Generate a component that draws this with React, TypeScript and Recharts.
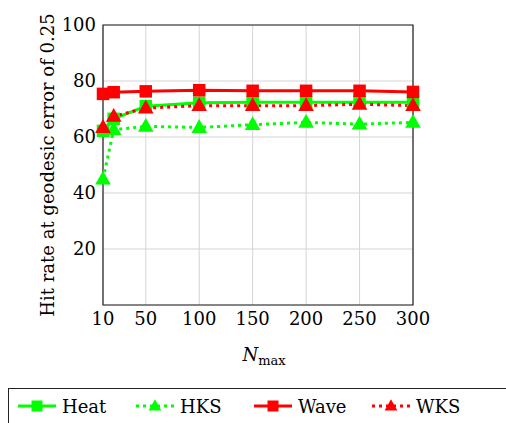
import React from 'react';
import { LineChart, Line, XAxis, YAxis, CartesianGrid, ReferenceArea } from 'recharts';

const nMax = [10, 20, 50, 100, 150, 200, 250, 300];
const heat = [62.2, 66.5, 71, 72.2, 72.4, 72.4, 72.4, 72.4];
const hks = [45, 62.6, 63.8, 63.4, 64.4, 65.2, 64.6, 65.2];
const wave = [75.4, 76, 76.3, 76.7, 76.5, 76.5, 76.5, 76.1];
const wks = [63.4, 67.4, 70.3, 71.2, 71.2, 71.2, 71.7, 71.2];

const xTicks = [10, 50, 100, 150, 200, 250, 300];
const yTicks = [20, 40, 60, 80, 100];

const FONT = '"DejaVu Serif", serif';
const GREEN = '#00ff00';
const RED = '#ff0000';

const data = nMax.map((n, i) => ({ n, heat: heat[i], hks: hks[i], wave: wave[i], wks: wks[i] }));

type Marker = 'square' | 'triangle';

const series: { key: string; name: string; color: string; dashed: boolean; marker: Marker }[] = [
  { key: 'heat', name: 'Heat', color: GREEN, dashed: false, marker: 'square' },
  { key: 'hks', name: 'HKS', color: GREEN, dashed: true, marker: 'triangle' },
  { key: 'wave', name: 'Wave', color: RED, dashed: false, marker: 'square' },
  { key: 'wks', name: 'WKS', color: RED, dashed: true, marker: 'triangle' },
];

const markerShape = (marker: Marker, cx: number, cy: number, color: string, s: number) =>
  marker === 'square' ? (
    <rect x={cx - s / 2} y={cy - s / 2} width={s} height={s} fill={color} />
  ) : (
    <polygon
      points={`${cx},${cy - s * 0.62} ${cx - s * 0.58},${cy + s * 0.4} ${cx + s * 0.58},${cy + s * 0.4}`}
      fill={color}
    />
  );

const makeDot = (marker: Marker, color: string) => (props: any) => {
  const { cx, cy, index } = props;
  if (cx == null || cy == null) return <g key={index} />;
  return <g key={index}>{markerShape(marker, cx, cy, color, marker === 'square' ? 12.5 : 13.5)}</g>;
};

const YLabel = () => (
  <text
    x={47}
    y={165}
    transform="rotate(-90, 47, 165)"
    textAnchor="middle"
    dominantBaseline="central"
    fontFamily={FONT}
    fontSize={18}
    fill="#000"
  >
    Hit rate at geodesic error of 0.25
  </text>
);

const XLabel = () => (
  <text x={264} y={361} textAnchor="middle" fontFamily={FONT} fontSize={18} fill="#000">
    <tspan fontStyle="italic">N</tspan>
    <tspan fontSize={13} dy={4}>max</tspan>
  </text>
);

export default function App() {
  return (
    <div style={{ position: 'absolute', left: 0, top: 0, width: 506, height: 423, overflow: 'hidden', background: '#fff' }}>
      <LineChart width={506} height={380} data={data} margin={{ top: 25, right: 93, left: 43, bottom: 45 }}>
        <CartesianGrid stroke="#d4d4d4" strokeWidth={1} />
        <XAxis
          dataKey="n"
          type="number"
          domain={[10, 300]}
          ticks={xTicks}
          tickLine={false}
          axisLine={false}
          tickSize={0}
          tickMargin={7}
          height={30}
          tick={{ fontFamily: FONT, fontSize: 18, fill: '#000' }}
          label={<XLabel />}
        />
        <YAxis
          type="number"
          domain={[0, 100]}
          ticks={yTicks}
          tickLine={false}
          axisLine={false}
          tickSize={0}
          tickMargin={7}
          width={60}
          tick={{ fontFamily: FONT, fontSize: 18, fill: '#000' }}
          label={<YLabel />}
        />
        <ReferenceArea x1={10} x2={300} y1={0} y2={100} fill="none" stroke="#222" strokeWidth={1.2} />
        {series.map((s) => (
          <Line
            key={s.key}
            dataKey={s.key}
            name={s.name}
            stroke={s.color}
            strokeWidth={3}
            strokeDasharray={s.dashed ? '3 4' : undefined}
            dot={makeDot(s.marker, s.color)}
            activeDot={false}
            isAnimationActive={false}
          />
        ))}
      </LineChart>
      <div
        style={{
          position: 'absolute',
          left: 8,
          top: 388,
          width: 520,
          height: 60,
          border: '1px solid #222',
          boxSizing: 'border-box',
          display: 'flex',
          alignItems: 'flex-start',
          paddingLeft: 8,
          paddingTop: 5,
          fontFamily: FONT,
          fontSize: 18,
          color: '#000',
        }}
      >
        {series.map((s) => (
          <div key={s.key} style={{ display: 'flex', alignItems: 'center', width: 118, height: 24 }}>
            <svg width={40} height={20} style={{ marginRight: 5 }}>
              <line
                x1={1}
                y1={10}
                x2={39}
                y2={10}
                stroke={s.color}
                strokeWidth={3}
                strokeDasharray={s.dashed ? '3 4' : undefined}
              />
              {markerShape(s.marker, 20, 10, s.color, 11)}
            </svg>
            <span>{s.name}</span>
          </div>
        ))}
      </div>
    </div>
  );
}
